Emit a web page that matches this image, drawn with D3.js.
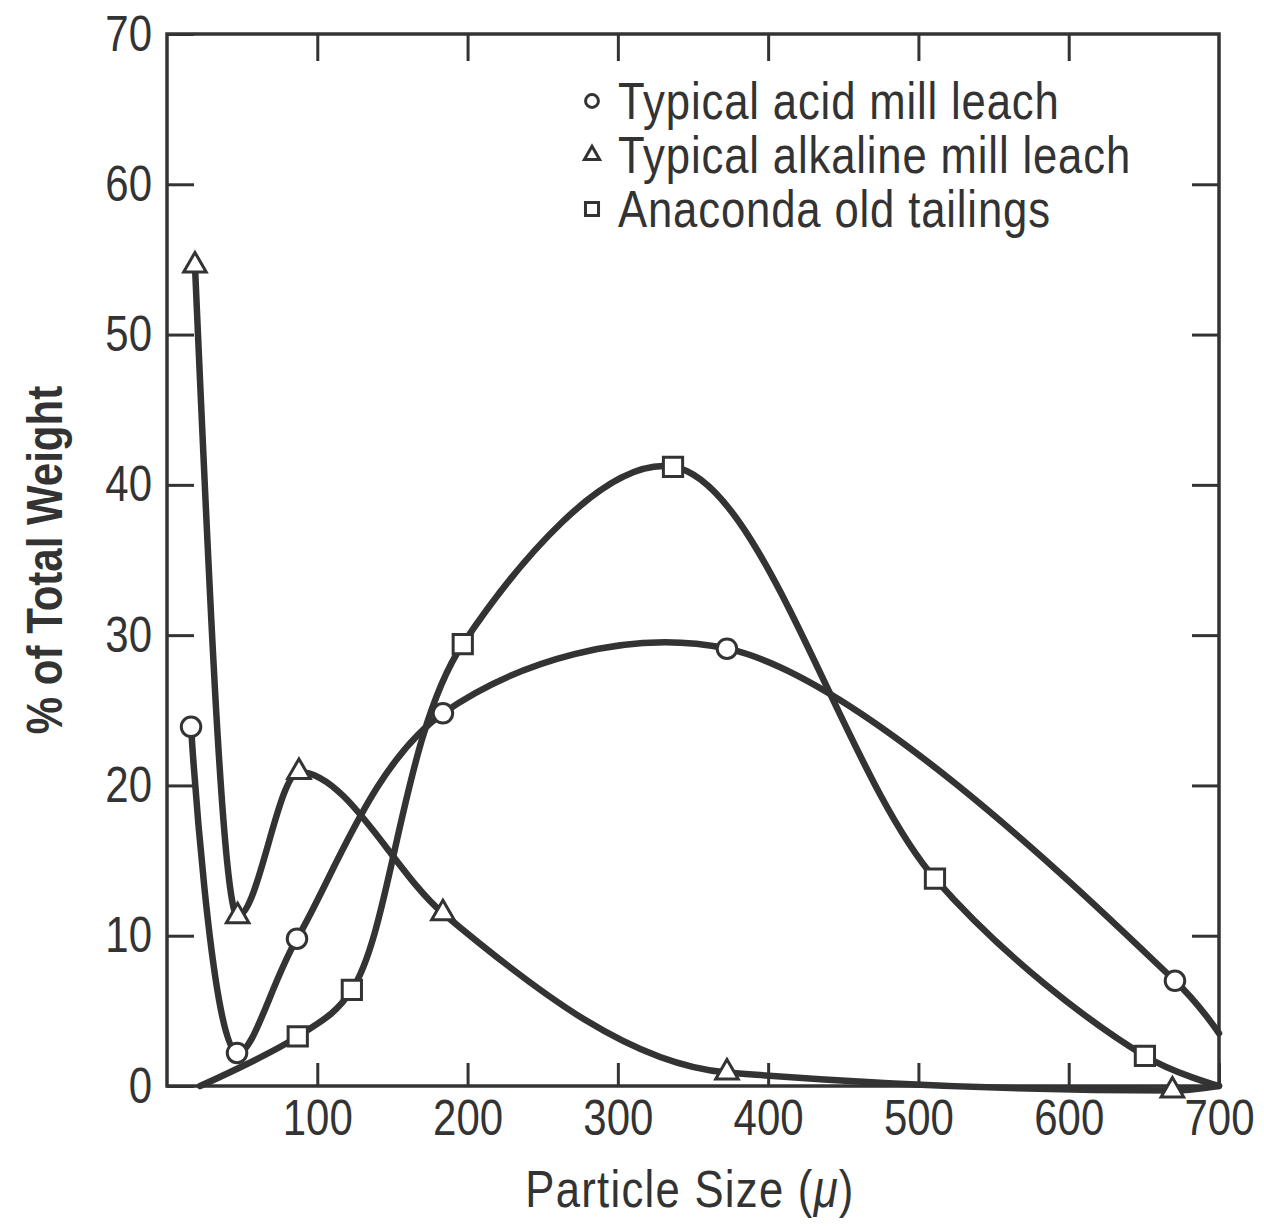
<!DOCTYPE html>
<meta charset="utf-8">
<style>
    body { margin: 0; background: #fff; }
    text {
        font-family: "Liberation Sans", Arial, sans-serif;
        fill: #333;
    }
    .curve {
        fill: none;
        stroke: #333;
        stroke-width: 6.5px;
        stroke-linejoin: round;
        stroke-linecap: round;
    }
    .mark {
        fill: #fff;
        stroke: #333;
        stroke-width: 3px;
    }
    .tick line { stroke: #333; stroke-width: 3px; }
</style>
<svg width="1264" height="1226">
    <rect fill="#fff" width="100%" height="100%"></rect>
</svg>
<script src="https://cdn.jsdelivr.net/npm/d3@7"></script>
<script>

    // tick labels
    var sizeTicks = [100, 200, 300, 400, 500, 600, 700];
    var weightTicks = [0, 10, 20, 30, 40, 50, 60, 70];

    // legend text
    var seriesNames = ["Typical acid mill leach", "Typical alkaline mill leach", "Anaconda old tailings"];

    // particle size (mu) vs % of total weight
    // flag 0 = the curve runs there but no marker is drawn
    var acidSize = [16, 46.6, 86.5, 183.6, 372.6, 670.7, 700];
    var acidWeight = [23.9, 2.2, 9.8, 24.8, 29.1, 7.0, 3.5];
    var acidMarked = [1, 1, 1, 1, 1, 1, 0];

    var alkSize = [18.6, 47, 87.8, 183.6, 372.6, 669, 700];
    var alkWeight = [54.6, 11.3, 20.9, 11.5, 0.9, -0.3, 0];
    var alkMarked = [1, 1, 1, 1, 1, 1, 0];

    var anaSize = [22, 87, 123, 196.8, 336.7, 511, 650.7, 700];
    var anaWeight = [0, 3.3, 6.4, 29.4, 41.2, 13.8, 2.0, 0];
    var anaMarked = [0, 1, 1, 1, 1, 1, 1, 0];

    var svg = d3.select("svg");

    var plotL = 167, plotR = 1219, plotT = 34, plotB = 1086;
    var squeeze = 0.84;  //fake a narrow lettering font

    var x = d3.scaleLinear().domain([0, 700]).range([plotL, plotR]);
    var y = d3.scaleLinear().domain([0, 70]).range([plotB, plotT]);

    function pack(sz, wt, mk)
    {
        return sz.map(function (s, i) { return {x: s, y: wt[i], m: mk[i]}; });
    }

    //alkaline tail hugs the axis, so a monotone curve keeps it from dipping under 0
    var series = [
        {name: seriesNames[0], shape: "circle", curve: d3.curveCatmullRom.alpha(0.5), pts: pack(acidSize, acidWeight, acidMarked)},
        {name: seriesNames[1], shape: "triangle", curve: d3.curveMonotoneX, pts: pack(alkSize, alkWeight, alkMarked)},
        {name: seriesNames[2], shape: "square", curve: d3.curveCatmullRom.alpha(0.5), pts: pack(anaSize, anaWeight, anaMarked)}
    ];

    //squash tick text horizontally around its own anchor
    function narrowTicks(g)
    {
        g.selectAll(".tick text").each(function ()
        {
            var t = d3.select(this);
            var tx = +t.attr("x") || 0;
            t.attr("x", tx / squeeze)
                    .attr("transform", "scale(" + squeeze + ",1)")
                    .attr("fill", "#333")
                    .style("font-size", "50px");
        });
    }

    //axes, ticks point inwards on all four sides
    svg.append("g")
            .attr("transform", "translate(0," + plotB + ")")
            .call(d3.axisBottom(x).tickValues(sizeTicks).tickSize(-23).tickPadding(14))
            .call(narrowTicks);

    svg.append("g")
            .attr("transform", "translate(" + plotL + ",0)")
            .call(d3.axisLeft(y).tickValues(weightTicks).tickSize(-27).tickPadding(15))
            .call(narrowTicks);

    svg.append("g")
            .attr("transform", "translate(0," + plotT + ")")
            .call(d3.axisTop(x).tickValues(sizeTicks.slice(0, 6)).tickSize(-27).tickFormat(""));

    svg.append("g")
            .attr("transform", "translate(" + plotR + ",0)")
            .call(d3.axisRight(y).tickValues(weightTicks.slice(1, 7)).tickSize(-27).tickFormat(""));

    svg.selectAll(".domain").remove();

    svg.append("rect")
            .attr("x", plotL).attr("y", plotT)
            .attr("width", plotR - plotL).attr("height", plotB - plotT)
            .attr("fill", "none").attr("stroke", "#333").attr("stroke-width", 3.5);

    //axis titles
    var xt = svg.append("text")
            .attr("transform", "translate(690,1207) scale(" + squeeze + ",1)")
            .attr("text-anchor", "middle")
            .style("font-size", "52px")
            .style("letter-spacing", "1.5px")
            .text("Particle Size (");
    xt.append("tspan").style("font-style", "italic").text("\u03bc");
    xt.append("tspan").text(")");

    svg.append("text")
            .attr("transform", "translate(62,560) rotate(-90) scale(" + squeeze + ",1)")
            .attr("text-anchor", "middle")
            .style("font-size", "50px")
            .style("font-weight", "bold")
            .text("% of Total Weight");

    //curves
    svg.append("g").selectAll("path")
            .data(series)
            .enter().append("path")
            .attr("class", "curve")
            .attr("d", function (d)
            {
                return d3.line()
                        .x(function (p) { return x(p.x); })
                        .y(function (p) { return y(p.y); })
                        .curve(d.curve)(d.pts);
            });

    function symbolFor(shape, big)
    {
        if (shape === "circle") return d3.symbol().type(d3.symbolCircle).size(big ? 300 : 130);
        if (shape === "square") return d3.symbol().type(d3.symbolSquare).size(big ? 370 : 170);
        return d3.symbol().type(d3.symbolTriangle).size(big ? 220 : 100);
    }

    series.forEach(function (s)
    {
        svg.append("g").selectAll("path")
                .data(s.pts.filter(function (p) { return p.m; }))
                .enter().append("path")
                .attr("class", "mark")
                .attr("transform", function (p) { return "translate(" + x(p.x) + "," + y(p.y) + ")"; })
                .attr("d", symbolFor(s.shape, true));
    });

    //legend
    var legend = svg.append("g").attr("transform", "translate(592,101)");
    var rows = legend.selectAll("g")
            .data(series)
            .enter().append("g")
            .attr("transform", function (d, i) { return "translate(0," + (i * 54) + ")"; });

    rows.append("path")
            .attr("class", "mark")
            .attr("stroke-width", 2.5)
            .attr("d", function (d) { return symbolFor(d.shape, false)(); });

    rows.append("text")
            .attr("transform", "translate(26,18) scale(" + squeeze + ",1)")
            .style("font-size", "52px")
            .style("letter-spacing", "1px")
            .text(function (d) { return d.name; });

</script>
